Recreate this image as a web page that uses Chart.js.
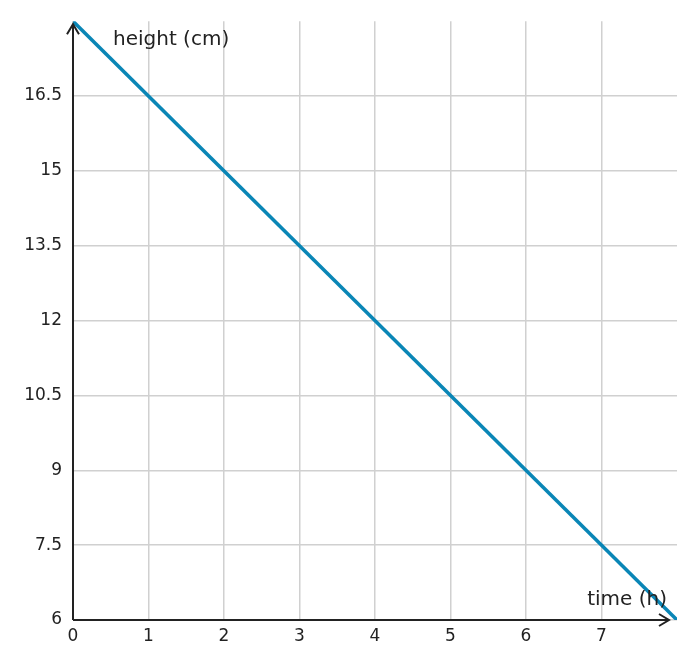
<!DOCTYPE html><html><head><style>html,body{margin:0;background:#fff}</style>
<script src="https://cdn.jsdelivr.net/npm/chart.js@4"></script></head><body>
<div style="width:693px;height:668px"><canvas id="c"></canvas></div>
<script>
const timeH=[0,8];
const heightCm=[18,6];
const xTicks=[0,1,2,3,4,5,6,7];
const yTicks=[6,7.5,9,10.5,12,13.5,15,16.5];
const F='"DejaVu Sans", sans-serif';
const axes={id:'axes',afterDatasetsDraw(ch){const c=ch.ctx,a=ch.chartArea;c.save();c.strokeStyle='#222';c.fillStyle='#222';c.lineWidth=2;
c.beginPath();c.moveTo(a.left,a.bottom);c.lineTo(a.left,a.top+3);c.moveTo(a.left,a.bottom);c.lineTo(a.right-8,a.bottom);c.stroke();
c.beginPath();c.moveTo(a.left-6,a.top+13);c.lineTo(a.left,a.top+3);c.lineTo(a.left+6,a.top+13);c.stroke();
c.beginPath();c.moveTo(a.right-18,a.bottom-6);c.lineTo(a.right-8,a.bottom);c.lineTo(a.right-18,a.bottom+6);c.stroke();
c.font='20px '+F;c.textBaseline='middle';c.textAlign='left';c.fillText('height (cm)',a.left+40,a.top+19);
c.textAlign='right';c.fillText('time (h)',a.right-10,a.bottom-20);c.restore();}};
new Chart(document.getElementById('c'),{type:'scatter',data:{datasets:[{data:timeH.map((x,i)=>({x,y:heightCm[i]})),showLine:true,borderColor:'#0a86b6',borderWidth:3.5,pointRadius:0}]},
options:{responsive:true,maintainAspectRatio:false,animation:false,layout:{padding:{top:17,right:16}},plugins:{legend:{display:false},tooltip:{enabled:false}},
scales:{x:{type:'linear',min:0,max:8,afterFit(s){s.height=48},afterBuildTicks(s){s.ticks=xTicks.map(v=>({value:v}))},grid:{color:'#d0d0d0',lineWidth:1.5,drawTicks:false},border:{display:false},ticks:{color:'#222',font:{family:F,size:17},padding:6}},
y:{min:6,max:18,afterFit(s){s.width=73},afterBuildTicks(s){s.ticks=yTicks.map(v=>({value:v}))},grid:{color:'#d0d0d0',lineWidth:1.5,drawTicks:false},border:{display:false},ticks:{color:'#222',font:{family:F,size:17},padding:11}}}},plugins:[axes]});
</script></body></html>
